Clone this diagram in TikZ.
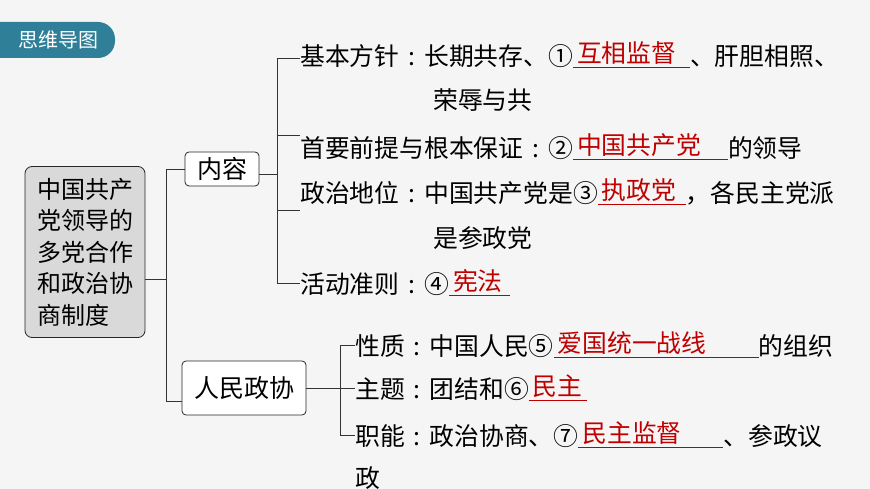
\documentclass[tikz,border=0pt]{standalone}
\usepackage{fontspec}
\setmainfont{Noto Sans CJK SC}
\definecolor{ansred}{HTML}{C00000}
\definecolor{tabc}{HTML}{2F7F98}
\newcommand\ans[2]{{\color{ansred}\underline{\makebox[#1][l]{\raisebox{3pt}{\,#2}}}}}
\newcommand\cc{\makebox[1em][c]{:}}
\begin{document}
\begin{tikzpicture}[x=1pt,y=-1pt,
  every node/.style={font=\fontsize{24.8}{28}\selectfont,inner sep=0pt},
  item/.style={anchor=west},
  conn/.style={draw=black!80,line width=0.8pt},
  box/.style={draw=black!85,rounded corners=4pt,line width=0.8pt,fill=white}]
\fill[white!96!black] (0,0) rectangle (870,489);
\useasboundingbox (0,0) rectangle (870,489);
\fill[tabc,rounded corners=17pt] (-20,22) rectangle (115,58);
\node[text=white,font=\fontsize{20}{22}\selectfont] (tab) at (58,40) {思维导图};
\node[box,fill=black!15,rounded corners=7pt,minimum width=120,minimum height=171,align=left,font=\fontsize{24}{31.5}\selectfont] (root) at (85,252) {中国共产\\党领导的\\多党合作\\和政治协\\商制度};
\node[box,minimum width=74,minimum height=34,font=\fontsize{25}{28}\selectfont] (nr) at (222,169) {内容};
\node[box,minimum width=124,minimum height=54,font=\fontsize{25}{28}\selectfont] (zx) at (244,388) {人民政协};
\coordinate (j1) at (166,279);
\draw[conn] (root.east|-j1) -- (j1);
\draw[conn] (nr.west) -- (166,169) -- (166,401) -- (zx.west|-0,401);
% 内容 branches
\node[item] (a1) at (300,55) {基本方针\cc 长期共存、①\ans{117pt}{互相监督}、肝胆相照、};
\node[item] (a2) at (433,100) {荣辱与共};
\node[item] (b1) at (300,147) {首要前提与根本保证\cc ②\ans{155pt}{中国共产党}的领导};
\node[item] (c1) at (300,192) {政治地位\cc 中国共产党是③\ans{88pt}{执政党}，各民主党派};
\node[item] (c2) at (433,238) {是参政党};
\node[item] (d1) at (300,283) {活动准则\cc ④\ans{61pt}{宪法}};
\coordinate (k1) at (277,174);
\draw[conn] (nr.east|-k1) -- (k1);
\draw[conn] (a1.west|-0,58) -- (277,58) -- (277,283) -- (d1.west);
\draw[conn] (277,135) -- (a1.west|-0,135);
\draw[conn] (277,210) -- (a1.west|-0,210);
% 人民政协 branches
\node[item] (e1) at (355,345) {性质\cc 中国人民⑤\ans{205pt}{爱国统一战线}的组织};
\node[item] (f1) at (355,388) {主题\cc 团结和⑥\ans{58pt}{民主}};
\node[item] (g1) at (355,435) {职能\cc 政治协商、⑦\ans{145pt}{民主监督}、参政议};
\node[item] (g2) at (355,478) {政};
\draw[conn] (zx.east) -- (f1.west);
\draw[conn] (e1.west) -- (340,345) -- (340,435) -- (g1.west);
\end{tikzpicture}
\end{document}
